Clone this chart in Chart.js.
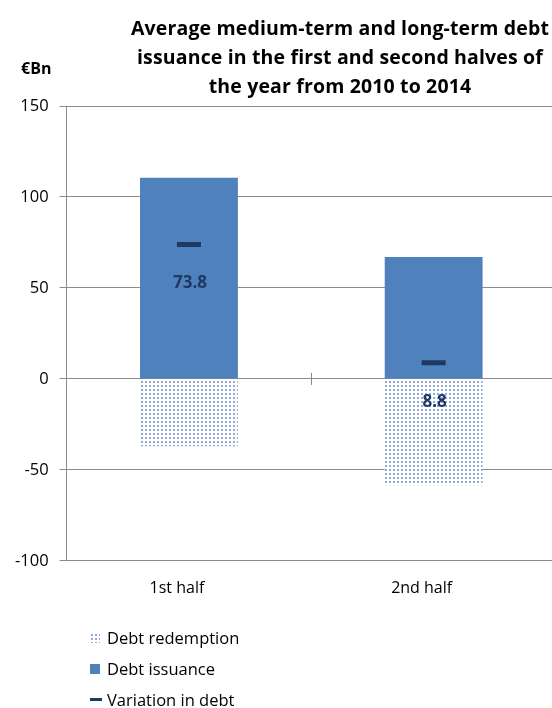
<!DOCTYPE html>
<html>
<head>
<meta charset="utf-8">
<script src="https://cdn.jsdelivr.net/npm/chart.js@4.4.1/dist/chart.umd.min.js"></script>
<style>
    html, body { margin: 0; padding: 0; background: #fff; overflow: hidden; }
    body { width: 552px; height: 708px; position: relative; font-family: "Open Sans", sans-serif; }
    #debtChart { position: absolute; left: 0; top: 0; }
    #title {
        position: absolute; left: 118px; width: 444px; top: 13px;
        text-align: center; font-weight: bold; font-size: 19.5px; line-height: 29px; color: #000;
        white-space: nowrap; letter-spacing: 0.15px;
    }
    #unit { position: absolute; left: 21px; top: 57px; font-weight: bold; font-size: 16px; }
    #legend { position: absolute; left: 90px; top: 622px; font-size: 16.5px; color: #000; }
    #legend div { height: 31px; line-height: 26px; display: flex; align-items: center; }
    #legend .sw { display: inline-block; margin-right: 7px; }
</style>
</head>
<body>
<canvas id="debtChart" width="556" height="624"></canvas>
<div id="title">Average medium-term and long-term debt<br>issuance in the first and second halves of<br>the year from 2010 to 2014</div>
<div id="unit">€Bn</div>
<div id="legend"></div>
<script>
// Chart data (€Bn)
var categories = ['1st half', '2nd half'];
var redemption = [-37, -58.5];
var issuance = [110.5, 67];
var variation = [73.8, 8.8];
var yTicks = [-100, -50, 0, 50, 100, 150];

// Colours
var issuanceColor = '#4F81BD';
var variationColor = '#1F3864';
var dotColor = '#8FAADC';

// Dotted fill for redemption bars
function makeDotPattern() {
    var tile = document.createElement('canvas');
    tile.width = 4;
    tile.height = 4;
    var tctx = tile.getContext('2d');
    tctx.fillStyle = '#ffffff';
    tctx.fillRect(0, 0, 4, 4);
    tctx.fillStyle = dotColor;
    tctx.fillRect(1, 1, 2, 2);
    return document.getElementById('debtChart').getContext('2d').createPattern(tile, 'repeat');
}
var dotPattern = makeDotPattern();

// Value labels under the variation markers
var variationLabels = {
    id: 'variationLabels',
    afterDatasetsDraw: function(chart) {
        var meta = chart.getDatasetMeta(2);
        var ctx = chart.ctx;
        ctx.save();
        ctx.font = 'bold 17px "Open Sans", sans-serif';
        ctx.fillStyle = variationColor;
        ctx.textAlign = 'center';
        ctx.textBaseline = 'middle';
        meta.data.forEach(function(pt, i) {
            ctx.fillText(variation[i].toFixed(1), pt.x + 1, pt.y + 39);
        });
        ctx.restore();
    }
};

// Small category separator tick on the zero line
var zeroTick = {
    id: 'zeroTick',
    afterDraw: function(chart) {
        var x = chart.scales.x;
        var y0 = chart.scales.y.getPixelForValue(0);
        var ctx = chart.ctx;
        ctx.save();
        ctx.strokeStyle = '#888';
        ctx.lineWidth = 1;
        for (var i = 0; i < categories.length - 1; i++) {
            var xm = (x.getPixelForValue(i) + x.getPixelForValue(i + 1)) / 2;
            ctx.beginPath();
            ctx.moveTo(Math.round(xm) + 0.5, y0 - 6);
            ctx.lineTo(Math.round(xm) + 0.5, y0 + 6);
            ctx.stroke();
        }
        ctx.restore();
    }
};

var chart = new Chart(document.getElementById('debtChart'), {
    type: 'bar',
    data: {
        labels: categories,
        datasets: [
            {
                label: 'Debt redemption',
                data: redemption,
                backgroundColor: dotPattern,
                stack: 'flows',
                barPercentage: 0.4,
                categoryPercentage: 1,
                order: 2
            },
            {
                label: 'Debt issuance',
                data: issuance,
                backgroundColor: issuanceColor,
                stack: 'flows',
                barPercentage: 0.4,
                categoryPercentage: 1,
                order: 2
            },
            {
                type: 'line',
                label: 'Variation in debt',
                data: variation,
                stack: 'variation',
                showLine: false,
                pointStyle: 'line',
                pointRadius: 12,
                pointBorderWidth: 5,
                pointBorderColor: variationColor,
                pointBackgroundColor: variationColor,
                borderColor: variationColor,
                order: 1
            }
        ]
    },
    options: {
        responsive: false,
        animation: false,
        layout: { autoPadding: false, padding: { top: 106, left: 4, right: 0, bottom: 8 } },
        plugins: {
            legend: { display: false },
            title: { display: false },
            tooltip: { enabled: false }
        },
        scales: {
            x: {
                stacked: true,
                grid: { display: false, drawTicks: false },
                border: { display: false },
                ticks: {
                    color: '#000',
                    padding: 18,
                    labelOffset: -12,
                    font: { family: '"Open Sans", sans-serif', size: 16 }
                }
            },
            y: {
                stacked: true,
                min: -100,
                max: 150,
                afterBuildTicks: function(axis) {
                    axis.ticks = yTicks.map(function(v) { return { value: v }; });
                },
                grid: { color: '#8c8c8c', tickLength: 7, lineWidth: 1 },
                border: { display: true, color: '#8c8c8c' },
                ticks: {
                    color: '#000',
                    padding: 11,
                    font: { family: '"Open Sans", sans-serif', size: 16.5 }
                }
            }
        }
    },
    plugins: [variationLabels, zeroTick]
});

// HTML legend
var legendItems = [
    { text: 'Debt redemption', html: '<canvas class="sw" width="10" height="10"></canvas>' },
    { text: 'Debt issuance', html: '<span class="sw" style="width:10px;height:10px;background:' + issuanceColor + '"></span>' },
    { text: 'Variation in debt', html: '<span class="sw" style="width:12px;height:3px;margin-right:5px;background:' + variationColor + '"></span>' }
];
var legendEl = document.getElementById('legend');
legendItems.forEach(function(item) {
    var row = document.createElement('div');
    row.innerHTML = item.html + '<span>' + item.text + '</span>';
    legendEl.appendChild(row);
});
var sw = legendEl.querySelector('canvas');
var swCtx = sw.getContext('2d');
swCtx.fillStyle = makeDotPattern();
swCtx.fillRect(0, 0, 10, 10);
</script>
</body>
</html>
